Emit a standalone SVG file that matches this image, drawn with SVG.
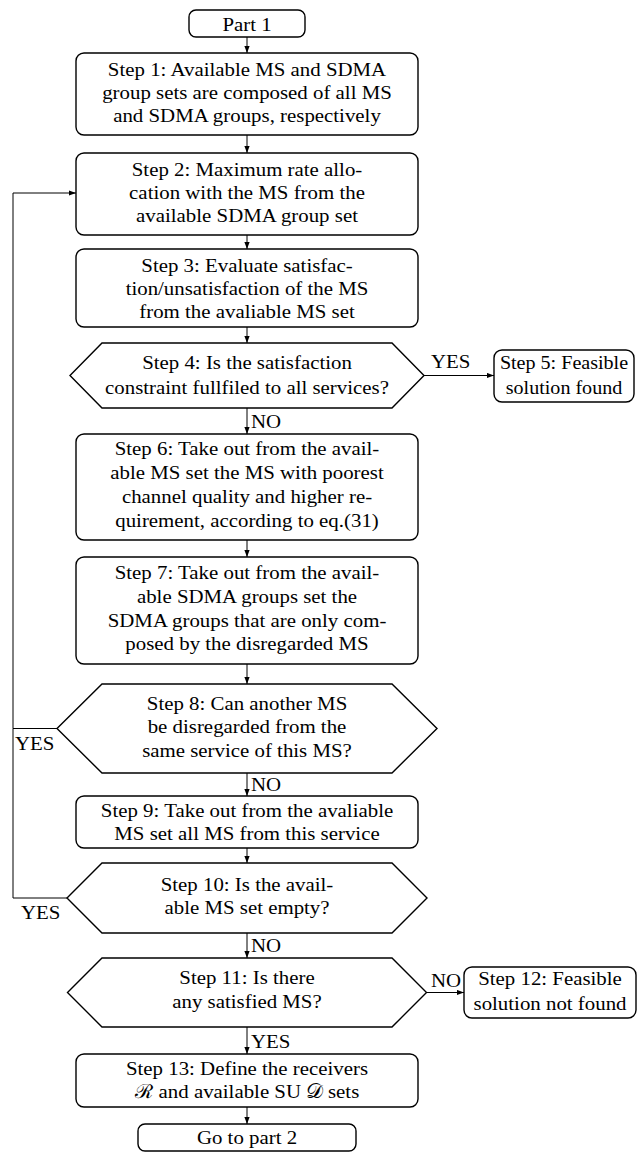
<svg xmlns="http://www.w3.org/2000/svg" width="639" height="1153" viewBox="0 0 639 1153" font-family="Liberation Serif">
<defs>
<marker id="ah" markerUnits="userSpaceOnUse" markerWidth="8" markerHeight="6" refX="7" refY="3" orient="auto">
<path d="M0,0.4 L7,3 L0,5.6 z" fill="#000"/>
</marker>
<style>
.box{fill:#fff;stroke:#000;stroke-width:1.4}
.con{fill:none;stroke:#000;stroke-width:1}
.t{font-family:'Liberation Serif',serif;font-size:19.5px;fill:#000;text-anchor:middle}
.l{font-family:'Liberation Serif',serif;font-size:19.5px;fill:#000;text-anchor:start}
</style>
</defs>
<rect width="639" height="1153" fill="#fff"/>

<g id="connectors">
<line class="con" x1="247" y1="37" x2="247" y2="53" marker-end="url(#ah)"/>
<line class="con" x1="247" y1="135" x2="247" y2="153" marker-end="url(#ah)"/>
<line class="con" x1="247" y1="235" x2="247" y2="249" marker-end="url(#ah)"/>
<line class="con" x1="247" y1="327" x2="247" y2="343" marker-end="url(#ah)"/>
<line class="con" x1="424" y1="375.5" x2="494" y2="375.5" marker-end="url(#ah)"/>
<line class="con" x1="247" y1="408" x2="247" y2="434" marker-end="url(#ah)"/>
<line class="con" x1="247" y1="540" x2="247" y2="557" marker-end="url(#ah)"/>
<line class="con" x1="247" y1="664" x2="247" y2="684" marker-end="url(#ah)"/>
<polyline class="con" points="57,728.5 13,728.5 13,193 76,193" marker-end="url(#ah)"/>
<line class="con" x1="247" y1="773" x2="247" y2="796" marker-end="url(#ah)"/>
<line class="con" x1="247" y1="848" x2="247" y2="863" marker-end="url(#ah)"/>
<polyline class="con" points="67,898 13,898 13,728.5"/>
<line class="con" x1="247" y1="933" x2="247" y2="958" marker-end="url(#ah)"/>
<line class="con" x1="426.5" y1="992.5" x2="464" y2="992.5" marker-end="url(#ah)"/>
<line class="con" x1="247" y1="1027" x2="247" y2="1054" marker-end="url(#ah)"/>
<line class="con" x1="247" y1="1107" x2="247" y2="1124" marker-end="url(#ah)"/>
<text class="l" transform="translate(431,0) scale(1.07,1)" x="0" y="368">YES</text>
<text class="l" transform="translate(251,0) scale(1.07,1)" x="0" y="428">NO</text>
<text class="l" transform="translate(15,0) scale(1.07,1)" x="0" y="750">YES</text>
<text class="l" transform="translate(251,0) scale(1.07,1)" x="0" y="791">NO</text>
<text class="l" transform="translate(21,0) scale(1.07,1)" x="0" y="919">YES</text>
<text class="l" transform="translate(251,0) scale(1.07,1)" x="0" y="952">NO</text>
<text class="l" transform="translate(431,0) scale(1.07,1)" x="0" y="987">NO</text>
<text class="l" transform="translate(251,0) scale(1.07,1)" x="0" y="1048">YES</text>
</g>

<g id="part1">
<rect class="box" x="189" y="10" width="116" height="27" rx="7"/>
<text class="t" transform="translate(247,0) scale(1.07,1)" x="0" y="31">Part 1</text>
</g>

<g id="step1">
<rect class="box" x="76" y="53" width="342" height="82" rx="8"/>
<text class="t" transform="translate(247,0) scale(1.07,1)"><tspan x="0" y="76">Step 1: Available MS and SDMA</tspan><tspan x="0" y="99">group sets are composed of all MS</tspan><tspan x="0" y="122">and SDMA groups, respectively</tspan></text>
</g>

<g id="step2">
<rect class="box" x="76" y="153" width="342" height="82" rx="8"/>
<text class="t" transform="translate(247,0) scale(1.07,1)"><tspan x="0" y="176">Step 2: Maximum rate allo-</tspan><tspan x="0" y="199">cation with the MS from the</tspan><tspan x="0" y="222">available SDMA group set</tspan></text>
</g>

<g id="step3">
<rect class="box" x="76" y="249" width="342" height="78" rx="8"/>
<text class="t" transform="translate(247,0) scale(1.07,1)"><tspan x="0" y="272">Step 3: Evaluate satisfac-</tspan><tspan x="0" y="295">tion/unsatisfaction of the MS</tspan><tspan x="0" y="318">from the avaliable MS set</tspan></text>
</g>

<g id="step4">
<polygon class="box" points="70,375.5 102,343 392,343 424,375.5 392,408 102,408"/>
<text class="t" transform="translate(247,0) scale(1.07,1)"><tspan x="0" y="369">Step 4: Is the satisfaction</tspan><tspan x="0" y="394">constraint fullfiled to all services?</tspan></text>
</g>

<g id="step5">
<rect class="box" x="494" y="350" width="140" height="52" rx="8"/>
<text class="t" transform="translate(564,0) scale(1.03,1)"><tspan x="0" y="369">Step 5: Feasible</tspan><tspan x="0" y="394">solution found</tspan></text>
</g>

<g id="step6">
<rect class="box" x="76" y="434" width="342" height="106" rx="8"/>
<text class="t" transform="translate(247,0) scale(1.07,1)"><tspan x="0" y="455">Step 6: Take out from the avail-</tspan><tspan x="0" y="479">able MS set the MS with poorest</tspan><tspan x="0" y="503">channel quality and higher re-</tspan><tspan x="0" y="527">quirement, according to eq.(31)</tspan></text>
</g>

<g id="step7">
<rect class="box" x="76" y="557" width="342" height="107" rx="8"/>
<text class="t" transform="translate(247,0) scale(1.07,1)"><tspan x="0" y="579">Step 7: Take out from the avail-</tspan><tspan x="0" y="603">able SDMA groups set the</tspan><tspan x="0" y="627">SDMA groups that are only com-</tspan><tspan x="0" y="650">posed by the disregarded MS</tspan></text>
</g>

<g id="step8">
<polygon class="box" points="57,728.5 102,684 392,684 437,728.5 392,773 102,773"/>
<text class="t" transform="translate(247,0) scale(1.07,1)"><tspan x="0" y="710">Step 8: Can another MS</tspan><tspan x="0" y="733">be disregarded from the</tspan><tspan x="0" y="757">same service of this MS?</tspan></text>
</g>

<g id="step9">
<rect class="box" x="76" y="796" width="342" height="52" rx="8"/>
<text class="t" transform="translate(247,0) scale(1.07,1)"><tspan x="0" y="817">Step 9: Take out from the avaliable</tspan><tspan x="0" y="840">MS set all MS from this service</tspan></text>
</g>

<g id="step10">
<polygon class="box" points="67,898 102,863 392,863 427,898 392,933 102,933"/>
<text class="t" transform="translate(247,0) scale(1.07,1)"><tspan x="0" y="891">Step 10: Is the avail-</tspan><tspan x="0" y="914">able MS set empty?</tspan></text>
</g>

<g id="step11">
<polygon class="box" points="67.5,992.5 102,958 392,958 426.5,992.5 392,1027 102,1027"/>
<text class="t" transform="translate(247,0) scale(1.07,1)"><tspan x="0" y="984">Step 11: Is there</tspan><tspan x="0" y="1008">any satisfied MS?</tspan></text>
</g>

<g id="step12">
<rect class="box" x="464" y="967" width="172" height="51" rx="8"/>
<text class="t" transform="translate(550,0) scale(1.07,1)"><tspan x="0" y="985">Step 12: Feasible</tspan><tspan x="0" y="1010">solution not found</tspan></text>
</g>

<g id="step13">
<rect class="box" x="76" y="1054" width="342" height="53" rx="8"/>
<text class="t" transform="translate(247,0) scale(1.07,1)"><tspan x="0" y="1075">Step 13: Define the receivers</tspan><tspan x="0" y="1098">ℛ and available SU 𝒟 sets</tspan></text>
</g>

<g id="part2">
<rect class="box" x="138" y="1124" width="218" height="27" rx="7"/>
<text class="t" transform="translate(247,0) scale(1.07,1)" x="0" y="1144">Go to part 2</text>
</g>
</svg>
